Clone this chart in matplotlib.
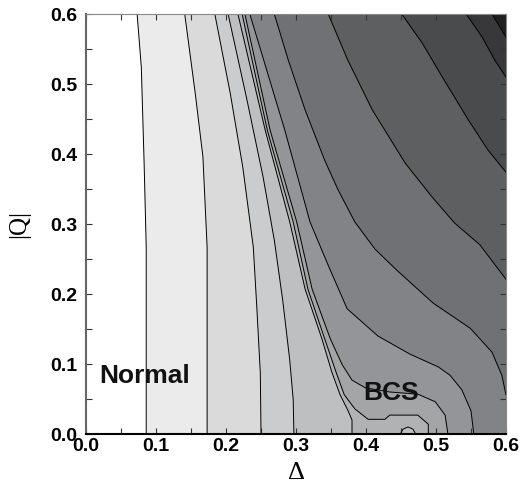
import numpy as np
import matplotlib
matplotlib.use('Agg')
import matplotlib.pyplot as plt
from matplotlib.ticker import MultipleLocator

# contour lines: (delta, |Q|) pairs for each level boundary
l1_delta = [0.073, 0.079, 0.083, 0.086, 0.086]
l1_q = [0.6, 0.524, 0.387, 0.267, 0.0]

l2_delta = [0.141, 0.156, 0.167, 0.173, 0.173]
l2_q = [0.6, 0.487, 0.396, 0.267, 0.0]

l3_delta = [0.184, 0.206, 0.224, 0.239, 0.244, 0.249, 0.250]
l3_q = [0.6, 0.487, 0.381, 0.267, 0.181, 0.087, 0.0]

l4_delta = [0.203, 0.230, 0.253, 0.269, 0.281, 0.291, 0.296, 0.297]
l4_q = [0.6, 0.477, 0.367, 0.277, 0.191, 0.106, 0.049, 0.0]

l5_delta = [0.217, 0.256, 0.291, 0.313, 0.337, 0.351, 0.363, 0.374, 0.380, 0.380]
l5_q = [0.6, 0.434, 0.303, 0.207, 0.136, 0.089, 0.056, 0.034, 0.020, 0.0]

l6_delta = [0.223, 0.259, 0.296, 0.317, 0.341, 0.357, 0.369, 0.384, 0.403, 0.427,
            0.434, 0.474, 0.489, 0.489]
l6_q = [0.6, 0.434, 0.303, 0.207, 0.136, 0.089, 0.056, 0.036, 0.021, 0.021,
        0.027, 0.027, 0.014, 0.0]

l7_delta = [0.227, 0.263, 0.301, 0.323, 0.349, 0.366, 0.380, 0.399, 0.434, 0.474,
            0.499, 0.513, 0.517]
l7_q = [0.6, 0.434, 0.303, 0.207, 0.136, 0.099, 0.077, 0.066, 0.060, 0.057,
        0.046, 0.027, 0.0]

l8_delta = [0.234, 0.284, 0.320, 0.346, 0.373, 0.417, 0.463, 0.503, 0.520, 0.537,
            0.550, 0.554]
l8_q = [0.6, 0.434, 0.303, 0.241, 0.179, 0.140, 0.114, 0.096, 0.084, 0.063,
        0.033, 0.0]

l9_delta = [0.269, 0.289, 0.313, 0.341, 0.360, 0.384, 0.413, 0.444, 0.496, 0.549,
            0.580, 0.594, 0.600]
l9_q = [0.6, 0.534, 0.463, 0.391, 0.349, 0.303, 0.264, 0.234, 0.187, 0.151,
        0.117, 0.084, 0.056]

l10_delta = [0.346, 0.374, 0.409, 0.456, 0.494, 0.527, 0.563, 0.600]
l10_q = [0.6, 0.534, 0.463, 0.387, 0.339, 0.301, 0.270, 0.221]

l11_delta = [0.451, 0.480, 0.509, 0.546, 0.574, 0.600]
l11_q = [0.6, 0.559, 0.510, 0.449, 0.406, 0.374]

l12_delta = [0.543, 0.566, 0.584, 0.600]
l12_q = [0.6, 0.567, 0.534, 0.510]

l13_delta = [0.580, 0.600]
l13_q = [0.6, 0.567]

# small local dip at the BCS minimum
island_delta = [0.449, 0.453, 0.460, 0.467, 0.471]
island_q = [0.0, 0.007, 0.010, 0.007, 0.0]

lines = [(l1_delta, l1_q), (l2_delta, l2_q), (l3_delta, l3_q), (l4_delta, l4_q),
         (l5_delta, l5_q), (l6_delta, l6_q), (l7_delta, l7_q), (l8_delta, l8_q),
         (l9_delta, l9_q), (l10_delta, l10_q), (l11_delta, l11_q),
         (l12_delta, l12_q), (l13_delta, l13_q)]

grays = ['#ebebec', '#dadadb', '#cbccce', '#bebfc1', '#b1b2b4', '#a4a5a7',
         '#949598', '#828386', '#707174', '#5e5f61', '#4a4b4d', '#38383a',
         '#1f1f1f']

fig = plt.figure(figsize=(5.21, 4.95), dpi=100)
ax = fig.add_axes([0.1651, 0.1232, 0.8061, 0.8485])

# each band is the area right of / above its boundary, darker ones on top
for (d, q), col in zip(lines, grays):
    px = list(d)
    py = list(q)
    if q[-1] == 0.0:
        px += [0.6, 0.6]
        py += [0.0, 0.6]
    else:
        px += [0.6]
        py += [0.6]
    ax.fill(px, py, color=col, lw=0, zorder=1)

ax.fill(island_delta, island_q, color=grays[3], lw=0, zorder=1)

for d, q in lines:
    ax.plot(d, q, color='black', lw=0.7, zorder=2)
ax.plot(island_delta, island_q, color='black', lw=0.7, zorder=2)

ax.set_xlim(0, 0.6)
ax.set_ylim(0, 0.6)

tick_font = {'family': 'Liberation Sans', 'weight': 'bold', 'size': 14}
ax.xaxis.set_major_locator(MultipleLocator(0.1))
ax.yaxis.set_major_locator(MultipleLocator(0.1))
ax.xaxis.set_minor_locator(MultipleLocator(0.05))
ax.yaxis.set_minor_locator(MultipleLocator(0.05))
ax.set_xticklabels(['%.1f' % v for v in ax.get_xticks()], fontdict=tick_font)
ax.set_yticklabels(['%.1f' % v for v in ax.get_yticks()], fontdict=tick_font)
ax.tick_params(which='both', direction='in', top=True, right=True,
               length=4, width=0.8, color='#333333')
ax.tick_params(axis='x', pad=3)
ax.tick_params(axis='y', pad=6)

for side in ['top', 'right']:
    ax.spines[side].set_color('#888888')
    ax.spines[side].set_linewidth(0.8)
ax.spines['left'].set_color('#666666')
ax.spines['left'].set_linewidth(1.5)
ax.spines['bottom'].set_color('black')
ax.spines['bottom'].set_linewidth(1.5)
for s in ax.spines.values():
    s.set_zorder(3)

ax.set_xlabel('\u0394', family='Liberation Serif', size=19, labelpad=5)
ax.set_ylabel('|Q|', family='Liberation Serif', size=18, labelpad=15)

ax.text(0.019, 0.073, 'Normal', family='Liberation Sans', weight='bold',
        size=19, ha='left', va='baseline', color='#111111', zorder=4)
ax.text(0.396, 0.049, 'BCS', family='Liberation Sans', weight='bold',
        size=19, ha='left', va='baseline', color='#111111', zorder=4)

plt.savefig('out.png', dpi=100)
